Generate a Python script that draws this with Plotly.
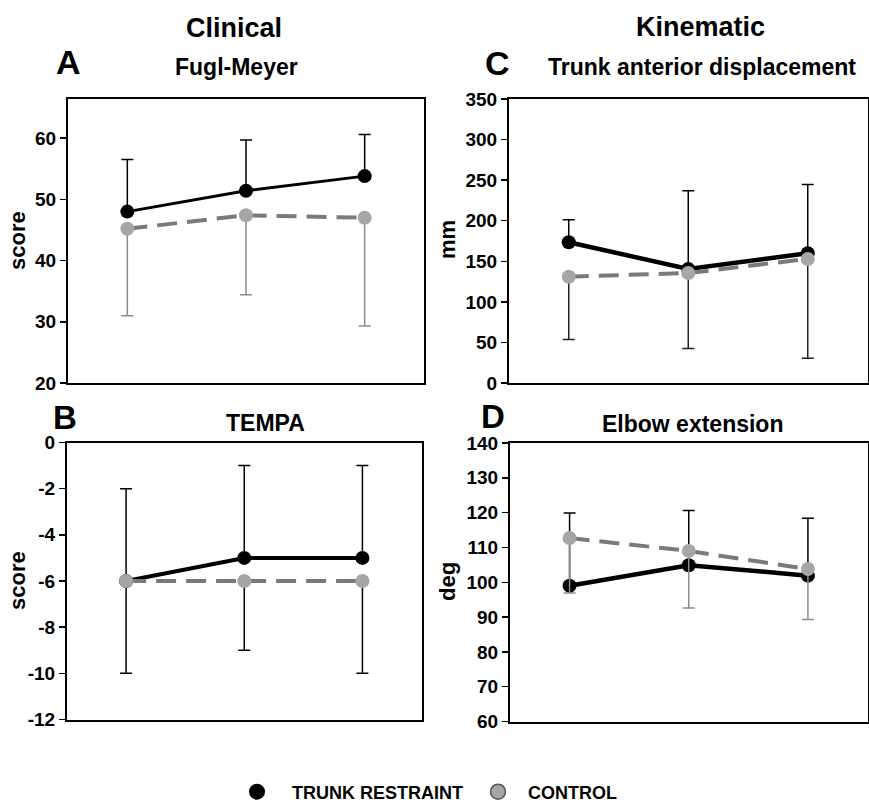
import plotly.graph_objects as go

# ---- data ----
sessions = [1, 2, 3]

fm_tr = [48.0, 51.4, 53.8]
fm_tr_hi = [56.5, 59.7, 60.6]
fm_ct = [45.2, 47.4, 47.0]
fm_ct_lo = [31.0, 34.4, 29.3]

tempa_tr = [-6, -5, -5]
tempa_tr_hi = [-2, -1, -1]
tempa_ct = [-6, -6, -6]
tempa_ct_lo = [-10, -9, -10]

trunk_tr = [173.5, 140.5, 159.9]
trunk_tr_hi = [201.2, 236.8, 244.6]
trunk_ct = [131.0, 135.5, 152.9]
trunk_ct_lo = [53.7, 42.6, 30.6]

elbow_tr = [99.0, 104.9, 101.9]
elbow_tr_hi = [119.9, 120.6, 118.4]
elbow_ct = [112.7, 109.0, 103.8]
elbow_ct_lo = [96.9, 92.6, 89.3]

fm_ticks = [20, 30, 40, 50, 60]
tempa_ticks = [-12, -10, -8, -6, -4, -2, 0]
trunk_ticks = [0, 50, 100, 150, 200, 250, 300, 350]
elbow_ticks = [60, 70, 80, 90, 100, 110, 120, 130, 140]

# ---- styling ----
FONT = "Liberation Sans, Arial, Helvetica, sans-serif"
W, H = 869, 802
BLACK = "#000000"
GRAY_M = "#a6a6a6"
GRAY_L = "#7a7a7a"
GRAY_E = "#8c8c8c"


def px_x(a, b):
    return [a / W, b / W]


def px_y(top, bottom):
    return [1 - bottom / H, 1 - top / H]


fig = go.Figure()

panels = [
    ("", fm_tr, fm_tr_hi, fm_ct, fm_ct_lo, 3, GRAY_E),
    ("2", tempa_tr, tempa_tr_hi, tempa_ct, tempa_ct_lo, 4, BLACK),
    ("3", trunk_tr, trunk_tr_hi, trunk_ct, trunk_ct_lo, 4.5, "#222222"),
    ("4", elbow_tr, elbow_tr_hi, elbow_ct, elbow_ct_lo, 4.5, GRAY_E),
]

for suf, tr, tr_hi, ct, ct_lo, lw, ct_ec in panels:
    xa = "x" + suf
    ya = "y" + suf
    fig.add_trace(go.Scatter(
        x=sessions, y=tr, xaxis=xa, yaxis=ya, mode="lines+markers",
        line=dict(color=BLACK, width=lw),
        marker=dict(color=BLACK, size=14),
        error_y=dict(type="data", symmetric=False,
                     array=[h - v for h, v in zip(tr_hi, tr)],
                     arrayminus=[0, 0, 0], color=BLACK, thickness=1.5, width=6),
        showlegend=False, hoverinfo="skip"))
    fig.add_trace(go.Scatter(
        x=sessions, y=ct, xaxis=xa, yaxis=ya, mode="lines+markers",
        line=dict(color=GRAY_L, width=4, dash="20px,10px"),
        marker=dict(color=GRAY_M, size=14),
        error_y=dict(type="data", symmetric=False,
                     array=[0, 0, 0],
                     arrayminus=[v - l for v, l in zip(ct, ct_lo)],
                     color=ct_ec, thickness=1.5, width=6),
        showlegend=False, hoverinfo="skip"))

NB = "\u00a0"
# legend-only traces
fig.add_trace(go.Scatter(x=[None], y=[None], mode="markers",
                         marker=dict(color=BLACK, size=16),
                         name=NB * 3 + "TRUNK RESTRAINT", showlegend=True))
fig.add_trace(go.Scatter(x=[None], y=[None], mode="markers",
                         marker=dict(color=GRAY_M, size=15,
                                     line=dict(color="#555555", width=1.5)),
                         name=NB * 2 + "CONTROL", showlegend=True))

tickfont = dict(family=FONT, size=19, color="black", weight="bold")


def xax(domain, anchor):
    return dict(domain=domain, range=[0.5, 3.5], showline=True, mirror=True,
                linecolor="black", linewidth=2, showgrid=False, zeroline=False,
                showticklabels=False, ticks="", fixedrange=True, anchor=anchor)


def yax(domain, rng, vals, anchor):
    return dict(domain=domain, range=rng, showline=True, mirror=True,
                linecolor="black", linewidth=2, showgrid=False, zeroline=False,
                ticks="outside", ticklen=6, tickwidth=1.5, tickcolor="black",
                tickvals=vals, ticktext=[str(v) for v in vals],
                tickfont=tickfont, anchor=anchor, automargin=False)


yA = px_y(99, 383)
yB = px_y(442.5, 719.5)
fig.update_layout(
    width=W, height=H,
    margin=dict(l=0, r=0, t=0, b=0, autoexpand=False),
    paper_bgcolor="white", plot_bgcolor="white",
    xaxis=xax(px_x(68, 424), "y"),
    yaxis=yax(yA, [20, 66.4], fm_ticks, "x"),
    xaxis2=xax(px_x(67, 421.5), "y2"),
    yaxis2=yax(yB, [-12, 0], tempa_ticks, "x2"),
    xaxis3=xax(px_x(509, 867.5), "y3"),
    yaxis3=yax(yA, [0, 350], trunk_ticks, "x3"),
    xaxis4=xax(px_x(510, 867.5), "y4"),
    yaxis4=yax(px_y(443, 721.5), [60, 140], elbow_ticks, "x4"),
    showlegend=True,
    legend=dict(orientation="h", x=237 / W, xanchor="left", y=1 - 792 / H,
                yanchor="middle", entrywidth=196, entrywidthmode="pixels",
                font=dict(family=FONT, size=18, color="black", weight="bold"),
                bgcolor="rgba(0,0,0,0)"),
)


def ann(text, x, y, size, angle=0):
    fig.add_annotation(text=text, x=x / W, y=1 - y / H, xref="paper", yref="paper",
                       showarrow=False, xanchor="center", yanchor="middle",
                       textangle=angle,
                       font=dict(family=FONT, size=size, color="black", weight="bold"))


ann("Clinical", 234, 28, 27)
ann("Kinematic", 700, 27, 27)
ann("A", 68, 62, 34)
ann("B", 65, 417, 33)
ann("C", 497, 63, 34)
ann("D", 493, 416, 33)
ann("Fugl-Meyer", 237, 67, 23)
ann("TEMPA", 265, 423, 23)
ann("Trunk anterior displacement", 702, 67, 23)
ann("Elbow extension", 692, 424, 23)
ann("score", 17, 241, 22, -90)
ann("score", 17, 581, 22, -90)
ann("mm", 447, 240, 22, -90)
ann("deg", 447, 582, 22, -90)

fig.write_html(
    "out.html",
    config={"displayModeBar": False, "staticPlot": True},
    post_script="document.body.style.margin='0';document.body.style.overflow='hidden';",
)
